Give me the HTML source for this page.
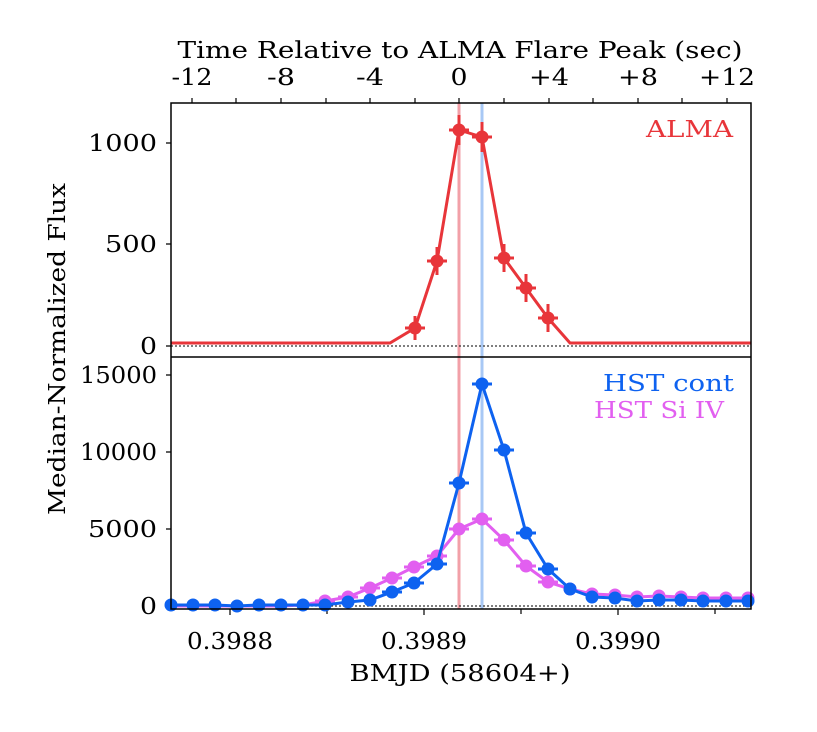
<!DOCTYPE html><html><head><style>body{margin:0;background:#fff}svg{display:block}text{font-family:"DejaVu Serif","Liberation Serif",serif}</style></head><body>
<svg width="817" height="732" viewBox="0 0 817 732" xmlns="http://www.w3.org/2000/svg">
<text x="460" y="58" font-size="23" text-anchor="middle" textLength="565" lengthAdjust="spacingAndGlyphs">Time Relative to ALMA Flare Peak (sec)</text>
<g font-size="23" text-anchor="middle" lengthAdjust="spacingAndGlyphs">
<text x="192" y="85" textLength="41" lengthAdjust="spacingAndGlyphs">-12</text><text x="281" y="85" textLength="28" lengthAdjust="spacingAndGlyphs">-8</text><text x="370" y="85" textLength="28" lengthAdjust="spacingAndGlyphs">-4</text><text x="459" y="85" textLength="17" lengthAdjust="spacingAndGlyphs">0</text><text x="549" y="85" textLength="40" lengthAdjust="spacingAndGlyphs">+4</text><text x="638" y="85" textLength="40" lengthAdjust="spacingAndGlyphs">+8</text><text x="727" y="85" textLength="56" lengthAdjust="spacingAndGlyphs">+12</text>
</g>
<g stroke="#000" stroke-width="1.2">
<path d="M192 103v-5M236 103v-5M281 103v-5M326 103v-5M370 103v-5M415 103v-5M459 103v-5M504 103v-5M549 103v-5M593 103v-5M638 103v-5M682 103v-5M727 103v-5"/>
<path d="M171 143h-5M171 244h-5M171 346h-5M171 375h-5M171 452h-5M171 529h-5M171 606h-5"/>
<path d="M230 609v6M424 609v6M618 609v6M327 609v5M521 609v5M715 609v5"/>
</g>
<line x1="459" y1="103" x2="459" y2="609" stroke="#f2a0a8" stroke-width="3"/>
<line x1="482" y1="103" x2="482" y2="609" stroke="#a8c8f5" stroke-width="3"/>
<line x1="171" y1="346" x2="751" y2="346" stroke="#333" stroke-width="1.3" stroke-dasharray="2,2"/>
<line x1="171" y1="606" x2="751" y2="606" stroke="#333" stroke-width="1.3" stroke-dasharray="2,2"/>
<g stroke="#e8353a" stroke-width="3" fill="#e8353a">
<polyline fill="none" points="171,343 390,343 415,328 437,261 459,130 482,137 504,258 526,288 548,318 570,343 751,343"/>
<path d="M415 316v24M405 328h20M437 247v28M427 261h20M459 115v30M449 130h20M482 122v30M472 137h20M504 244v28M494 258h20M526 274v28M516 288h20M548 304v28M538 318h20"/>
<circle cx="415" cy="328" r="5"/><circle cx="437" cy="261" r="5"/><circle cx="459" cy="130" r="5"/><circle cx="482" cy="137" r="5"/><circle cx="504" cy="258" r="5"/><circle cx="526" cy="288" r="5"/><circle cx="548" cy="318" r="5"/>
</g>
<g stroke="#e25ff0" stroke-width="3" fill="#e25ff0">
<polyline fill="none" points="171,606 193,606 215,606 237,606 259,606 281,606 303,605 325,601 348,597 370,588 392,578 414,567 437,556 459,529 482,519 504,540 526,566 548,582 570,589 592,594 615,595 637,597 659,596 681,597 703,598 726,598 748,598"/>
<circle cx="325" cy="601" r="5"/><circle cx="348" cy="597" r="5"/><circle cx="370" cy="588" r="5"/><circle cx="392" cy="578" r="5"/><circle cx="414" cy="567" r="5"/><circle cx="437" cy="556" r="5"/><circle cx="459" cy="529" r="5"/><circle cx="482" cy="519" r="5"/><circle cx="504" cy="540" r="5"/><circle cx="526" cy="566" r="5"/><circle cx="548" cy="582" r="5"/><circle cx="570" cy="589" r="5"/><circle cx="592" cy="594" r="5"/><circle cx="615" cy="595" r="5"/><circle cx="637" cy="597" r="5"/><circle cx="659" cy="596" r="5"/><circle cx="681" cy="597" r="5"/><circle cx="703" cy="598" r="5"/><circle cx="726" cy="598" r="5"/><circle cx="748" cy="598" r="5"/>
<path d="M315 601h20M338 597h20M360 588h20M382 578h20M404 567h20M427 556h20M449 529h20M472 519h20M494 540h20M516 566h20M538 582h20"/>
</g>
<g stroke="#0e62f0" stroke-width="3" fill="#0e62f0">
<polyline fill="none" points="171,605 193,605 215,605 237,606 259,605 281,605 303,605 325,605 348,602 370,600 392,592 414,583 437,564 459,483 482,384 504,450 526,533 548,569 570,589 592,597 615,598 637,601 659,600 681,600 703,601 726,601 748,601"/>
<circle cx="171" cy="605" r="5"/><circle cx="193" cy="605" r="5"/><circle cx="215" cy="605" r="5"/><circle cx="237" cy="606" r="5"/><circle cx="259" cy="605" r="5"/><circle cx="281" cy="605" r="5"/><circle cx="303" cy="605" r="5"/><circle cx="325" cy="605" r="5"/><circle cx="348" cy="602" r="5"/><circle cx="370" cy="600" r="5"/><circle cx="392" cy="592" r="5"/><circle cx="414" cy="583" r="5"/><circle cx="437" cy="564" r="5"/><circle cx="459" cy="483" r="5"/><circle cx="482" cy="384" r="5"/><circle cx="504" cy="450" r="5"/><circle cx="526" cy="533" r="5"/><circle cx="548" cy="569" r="5"/><circle cx="570" cy="589" r="5"/><circle cx="592" cy="597" r="5"/><circle cx="615" cy="598" r="5"/><circle cx="637" cy="601" r="5"/><circle cx="659" cy="600" r="5"/><circle cx="681" cy="600" r="5"/><circle cx="703" cy="601" r="5"/><circle cx="726" cy="601" r="5"/><circle cx="748" cy="601" r="5"/>
<path d="M449 483h20M472 384h20M494 450h20M516 533h20M538 569h20M404 583h20M427 564h20M382 592h20"/>
</g>
<rect x="171" y="103" width="580" height="506" fill="none" stroke="#000" stroke-width="1.5"/>
<line x1="171" y1="357" x2="751" y2="357" stroke="#000" stroke-width="1.5"/>
<g font-size="23" text-anchor="end">
<text x="157" y="151" textLength="69" lengthAdjust="spacingAndGlyphs">1000</text><text x="157" y="252" textLength="52" lengthAdjust="spacingAndGlyphs">500</text><text x="157" y="354" textLength="17" lengthAdjust="spacingAndGlyphs">0</text>
<text x="157" y="383" textLength="77" lengthAdjust="spacingAndGlyphs">15000</text><text x="157" y="460" textLength="77" lengthAdjust="spacingAndGlyphs">10000</text><text x="157" y="537" textLength="69" lengthAdjust="spacingAndGlyphs">5000</text><text x="157" y="614" textLength="17" lengthAdjust="spacingAndGlyphs">0</text>
</g>
<text x="733" y="137" font-size="23" text-anchor="end" fill="#e8353a" textLength="87" lengthAdjust="spacingAndGlyphs">ALMA</text>
<text x="734" y="391" font-size="23" text-anchor="end" fill="#0e62f0" textLength="131" lengthAdjust="spacingAndGlyphs">HST cont</text>
<text x="724" y="418" font-size="23" text-anchor="end" fill="#e25ff0" textLength="130" lengthAdjust="spacingAndGlyphs">HST Si IV</text>
<g font-size="23" text-anchor="middle">
<text x="230" y="649" textLength="86" lengthAdjust="spacingAndGlyphs">0.3988</text><text x="424" y="649" textLength="86" lengthAdjust="spacingAndGlyphs">0.3989</text><text x="618" y="649" textLength="86" lengthAdjust="spacingAndGlyphs">0.3990</text>
</g>
<text x="460" y="681" font-size="23" text-anchor="middle" textLength="221" lengthAdjust="spacingAndGlyphs">BMJD (58604+)</text>
<text transform="translate(65,349) rotate(-90)" font-size="23" text-anchor="middle" textLength="332" lengthAdjust="spacingAndGlyphs">Median-Normalized Flux</text>
</svg></body></html>
